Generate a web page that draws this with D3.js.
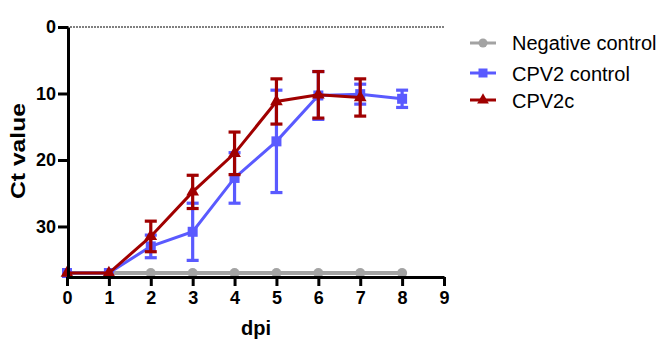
<!DOCTYPE html>
<html><head><meta charset="utf-8">
<script src="https://cdn.jsdelivr.net/npm/d3@7"></script>
<style>body{margin:0;background:#fff}</style>
</head><body>
<svg id="c" width="669" height="357"></svg>
<script>
const days = [0,1,2,3,4,5,6,7,8];
const negMean = [37,37,37,37,37,37,37,37,37];
const cpvCtrlMean = [37,37,33,30.8,22.7,17.2,10.3,10.1,10.8];
const cpvCtrlErr  = [0,0,1.7,4.3,3.8,7.7,3.6,1.5,1.3];
const cpv2cDays = [0,1,2,3,4,5,6,7];
const cpv2cMean = [37,37,31.5,24.8,19,11.2,10.2,10.6];
const cpv2cErr  = [0,0,2.3,2.5,3.2,3.4,3.5,2.8];
const xTicks = [0,1,2,3,4,5,6,7,8,9];
const yTicks = [0,10,20,30];
const legendNames = ["Negative control","CPV2 control","CPV2c"];

const svg = d3.select("#c");
const x = d3.scaleLinear().domain([0,9]).range([67,444]);
const y = d3.scaleLinear().domain([0,37.6]).range([27,277]);
const font = "Liberation Sans, Arial, sans-serif";

// dotted zero line
svg.append("line").attr("x1",x(0)).attr("x2",x(9)).attr("y1",y(0)).attr("y2",y(0))
  .attr("stroke","#000").attr("stroke-width",1).attr("stroke-dasharray","2,1");

const colors = {neg:"#a3a3a3", ctrl:"#5a5aff", c:"#a00000"};

// negative control
svg.append("path").datum(days.map((d,i)=>[d,negMean[i]]))
  .attr("d", d3.line().x(d=>x(d[0])).y(d=>y(d[1])))
  .attr("fill","none").attr("stroke",colors.neg).attr("stroke-width",4);
svg.selectAll(".negpt").data(days.map((d,i)=>[d,negMean[i]])).enter().append("circle")
  .attr("cx",d=>x(d[0])).attr("cy",d=>y(d[1])).attr("r",5).attr("fill",colors.neg);

function errbars(ds, means, errs, col){
  const g = svg.append("g").attr("stroke",col).attr("stroke-width",3.2);
  ds.forEach((d,i)=>{
    if(!errs[i]) return;
    const cx = x(d), t = y(means[i]-errs[i]), b = y(means[i]+errs[i]);
    g.append("line").attr("x1",cx).attr("x2",cx).attr("y1",t).attr("y2",b);
    g.append("line").attr("x1",cx-6).attr("x2",cx+6).attr("y1",t).attr("y2",t);
    g.append("line").attr("x1",cx-6).attr("x2",cx+6).attr("y1",b).attr("y2",b);
  });
}

// CPV2 control
svg.append("path").datum(days.map((d,i)=>[d,cpvCtrlMean[i]]))
  .attr("d", d3.line().x(d=>x(d[0])).y(d=>y(d[1])))
  .attr("fill","none").attr("stroke",colors.ctrl).attr("stroke-width",3);
errbars(days, cpvCtrlMean, cpvCtrlErr, colors.ctrl);
svg.selectAll(".ctrlpt").data(days.map((d,i)=>[d,cpvCtrlMean[i]])).enter().append("rect")
  .attr("x",d=>x(d[0])-5).attr("y",d=>y(d[1])-5).attr("width",10).attr("height",10).attr("fill",colors.ctrl);

// CPV2c
svg.append("path").datum(cpv2cDays.map((d,i)=>[d,cpv2cMean[i]]))
  .attr("d", d3.line().x(d=>x(d[0])).y(d=>y(d[1])))
  .attr("fill","none").attr("stroke",colors.c).attr("stroke-width",3);
errbars(cpv2cDays, cpv2cMean, cpv2cErr, colors.c);
const tri = d3.symbol().type(d3.symbolTriangle).size(70);
svg.selectAll(".cpt").data(cpv2cDays.map((d,i)=>[d,cpv2cMean[i]])).enter().append("path")
  .attr("d",tri).attr("transform",d=>`translate(${x(d[0])},${y(d[1])})`).attr("fill",colors.c);

// axes
const yAxis = svg.append("g").attr("transform",`translate(${x(0)+1},0)`)
  .call(d3.axisLeft(y).tickValues(yTicks).tickSize(10).tickSizeOuter(0).tickPadding(2));
const xAxis = svg.append("g").attr("transform",`translate(0,${y(37.6)})`)
  .call(d3.axisBottom(x).tickValues(xTicks).tickSize(9).tickSizeOuter(0).tickPadding(5));
[yAxis,xAxis].forEach(a=>{
  a.select(".domain").attr("stroke","#000").attr("stroke-width",3);
  a.selectAll(".tick line").attr("stroke","#000").attr("stroke-width",3);
  a.selectAll("text").attr("font-family",font).attr("font-size",18).attr("font-weight","bold").attr("fill","#000");
});

svg.append("text").attr("transform","translate(25,151) rotate(-90)").attr("text-anchor","middle")
  .attr("font-family",font).attr("font-size",20).attr("font-weight","bold")
  .attr("textLength",96).attr("lengthAdjust","spacingAndGlyphs").text("Ct value");
svg.append("text").attr("x",256).attr("y",335).attr("text-anchor","middle")
  .attr("font-family",font).attr("font-size",20).attr("font-weight","bold").text("dpi");

// legend
const lc = [colors.neg, colors.ctrl, colors.c];
const ly = [43,73,100];
const tb = [50,81,108];
legendNames.forEach((n,i)=>{
  const g = svg.append("g");
  g.append("line").attr("x1",470).attr("x2",496).attr("y1",ly[i]).attr("y2",ly[i])
    .attr("stroke",lc[i]).attr("stroke-width",3);
  if(i===0) g.append("circle").attr("cx",483).attr("cy",ly[i]).attr("r",4.5).attr("fill",lc[i]);
  if(i===1) g.append("rect").attr("x",478.5).attr("y",ly[i]-4.5).attr("width",9).attr("height",9).attr("fill",lc[i]);
  if(i===2) g.append("path").attr("d",d3.symbol().type(d3.symbolTriangle).size(60)).attr("transform",`translate(483,${ly[i]})`).attr("fill",lc[i]);
  g.append("text").attr("x",512).attr("y",tb[i]).attr("font-family",font).attr("font-size",20).attr("fill","#000").text(n);
});
</script>
</body></html>
